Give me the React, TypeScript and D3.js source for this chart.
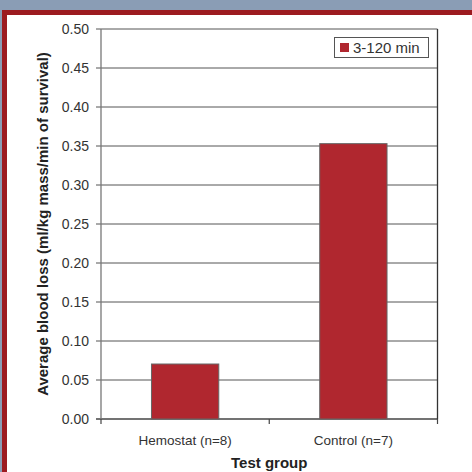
import * as d3 from "d3";
import React from "react";

const groups = ["Hemostat (n=8)", "Control (n=7)"];
const bloodLoss = [0.0705, 0.353];
const yTicks = [0, 0.05, 0.1, 0.15, 0.2, 0.25, 0.3, 0.35, 0.4, 0.45, 0.5];
const seriesName = "3-120 min";

const W = 472;
const H = 472;
const left = 101;
const right = 437.5;
const top = 29;
const bottom = 419;
const barColor = "#b0272f";
const font = "'Liberation Sans', Arial, sans-serif";

export default function App() {
    const x = d3.scaleBand<string>().domain(groups).range([left, right]).paddingInner(0.6).paddingOuter(0.3);
    const xEdge = d3.scalePoint<number>().domain([0, 1, 2]).range([left, right]);
    const y = d3.scaleLinear().domain([0, 0.5]).range([bottom, top]);

    return (
        <div style={{ position: "fixed", left: 0, top: 0 }}>
            <svg width={W} height={H} style={{ display: "block" }}>
                <rect x={0} y={0} width={W} height={H} fill="#8a9db5" />
                <rect x={2} y={10} width={W - 2} height={H - 10} fill="#9c1b20" />
                <rect x={7} y={15} width={W - 7} height={H - 15} fill="#ffffff" />

                {yTicks.map((t) => (
                    <g key={t}>
                        <line x1={left - 5} x2={right} y1={y(t)} y2={y(t)} stroke={t === 0 ? "#444" : "#555"} strokeWidth={t === 0 ? 1.3 : 1} />
                        <text x={left - 12} y={y(t)} dy="0.35em" textAnchor="end" fontFamily={font} fontSize={14} fill="#333">
                            {t.toFixed(2)}
                        </text>
                    </g>
                ))}

                <line x1={left} x2={left} y1={top} y2={bottom} stroke="#777" strokeWidth={1.3} />
                <line x1={right} x2={right} y1={top} y2={bottom} stroke="#333" strokeWidth={1.3} />

                {[0, 1, 2].map((i) => (
                    <line key={i} x1={xEdge(i)} x2={xEdge(i)} y1={bottom} y2={bottom + 5} stroke="#444" strokeWidth={1.2} />
                ))}

                {groups.map((g, i) => (
                    <g key={g}>
                        <rect
                            x={x(g)}
                            y={y(bloodLoss[i])}
                            width={x.bandwidth()}
                            height={bottom - y(bloodLoss[i])}
                            fill={barColor}
                            stroke="#666"
                            strokeWidth={1}
                        />
                        <text x={(x(g) as number) + x.bandwidth() / 2} y={bottom + 26} textAnchor="middle" fontFamily={font} fontSize={13.5} fill="#333">
                            {g}
                        </text>
                    </g>
                ))}

                <rect x={334.5} y={37.5} width={94} height={20} fill="#fff" stroke="#555" strokeWidth={1} />
                <rect x={340} y={43} width={9} height={9} fill={barColor} />
                <text x={353} y={52.5} fontFamily={font} fontSize={15} fill="#333">
                    {seriesName}
                </text>

                <text x={(left + right) / 2} y={468} textAnchor="middle" fontFamily={font} fontSize={15} fontWeight="bold" fill="#222">
                    Test group
                </text>
                <text
                    transform={`translate(48, ${(top + bottom) / 2}) rotate(-90)`}
                    textAnchor="middle"
                    fontFamily={font}
                    fontSize={15}
                    fontWeight="bold"
                    fill="#222"
                >
                    Average blood loss (ml/kg mass/min of survival)
                </text>
            </svg>
        </div>
    );
}
